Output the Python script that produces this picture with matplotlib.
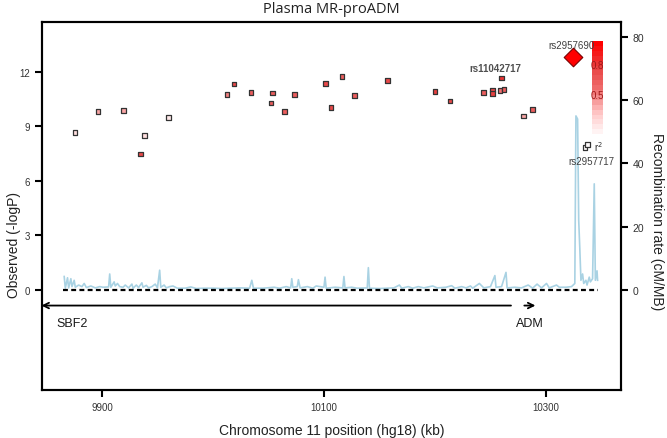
import matplotlib
matplotlib.use("Agg")
import matplotlib.pyplot as plt
import numpy as np
from matplotlib.colors import LinearSegmentedColormap

plt.rcParams['font.family'] = ['Liberation Sans', 'DejaVu Sans']

# SNP data: position (kb), -logP, r2 with the lead SNP
snp_pos = [9875.7, 9896.4, 9919.5, 9934.5, 9938.1, 9959.7, 10012.6, 10018.9,
           10034.2, 10052.3, 10053.4, 10064.6, 10073.6, 10101.5, 10106.3,
           10116.2, 10127.6, 10157.4, 10200.0, 10213.5, 10243.9, 10251.6,
           10251.6, 10258.6, 10262.2, 10259.7, 10279.6, 10287.7,
           10335.0, 10337.3]
snp_logp = [8.67, 9.81, 9.86, 7.47, 8.51, 9.48, 10.76, 11.33,
            10.87, 10.28, 10.83, 9.81, 10.76, 11.34, 10.02,
            11.74, 10.70, 11.50, 10.90, 10.40, 10.86, 11.00,
            10.81, 10.95, 11.03, 11.66, 9.56, 9.91,
            7.85, 8.00]
snp_r2 = [0.15, 0.35, 0.35, 0.7, 0.15, 0.1, 0.45, 0.7,
          0.6, 0.6, 0.6, 0.6, 0.6, 0.7, 0.7,
          0.6, 0.6, 0.7, 0.75, 0.7, 0.6, 0.7,
          0.75, 0.5, 0.6, 0.8, 0.35, 0.6,
          0.02, 0.02]

lead_pos = 10324.0
lead_logp = 12.79

# recombination rate (cM/Mb)
rec_pos = [9866, 9867, 9869, 9870, 9872, 9873, 9875, 9876, 9879, 9882, 9884, 9886,
           9890, 9894, 9898, 9901, 9906, 9907, 9908, 9911, 9912, 9914, 9916, 9919,
           9921, 9924, 9927, 9928, 9931, 9933, 9936, 9937, 9940, 9942, 9945, 9948,
           9950, 9952, 9953, 9956, 9958, 9961, 9964, 9968, 9975, 9980, 9985, 9992,
           10000, 10008, 10015, 10025, 10033, 10035, 10036.5, 10045, 10055, 10060,
           10066, 10070, 10071, 10072, 10076, 10077, 10078.5, 10085, 10090, 10093,
           10100, 10101, 10102, 10110, 10117, 10118, 10119, 10125, 10130, 10139,
           10140, 10141, 10150, 10163, 10168, 10170, 10176, 10180, 10185, 10190,
           10198, 10202, 10210, 10215, 10218, 10224, 10228, 10232, 10234, 10240,
           10244, 10250, 10254, 10255, 10260, 10264, 10265, 10272, 10278, 10284,
           10288, 10292, 10296, 10300.5, 10303, 10309.5, 10312, 10318, 10323, 10326,
           10327, 10328.5, 10329.5, 10330.5, 10331.5, 10333, 10334, 10336, 10337,
           10339, 10340, 10342, 10343.5, 10344.5, 10346, 10346.5]
rec_rate = [4.2, 0.5, 3.8, 0.6, 3.5, 1.0, 3.0, 0.8, 1.5, 1.0, 2.0, 0.7,
            1.2, 0.6, 1.0, 0.8, 0.9, 5.0, 0.8, 2.5, 1.2, 2.0, 1.0, 0.8,
            1.5, 0.6, 1.8, 0.5, 1.5, 0.7, 2.2, 0.8, 1.4, 0.6, 1.0, 1.8,
            0.6, 6.2, 0.8, 1.5, 0.6, 1.0, 1.2, 0.5, 0.5, 0.9, 0.4, 0.5,
            0.5, 0.4, 0.5, 0.6, 0.5, 3.0, 0.5, 0.5, 0.8, 0.5,
            1.0, 0.6, 3.5, 0.8, 1.0, 3.2, 0.6, 1.0, 0.5, 1.2,
            0.8, 4.0, 0.5, 0.8, 0.6, 4.2, 0.6, 0.8, 0.5, 0.6,
            7.0, 0.5, 0.4, 0.6, 1.5, 0.5, 1.0, 0.5, 1.0, 0.6,
            1.2, 0.6, 0.8, 1.3, 0.5, 1.0, 0.6, 1.2, 0.5, 2.0,
            0.6, 1.0, 4.5, 0.8, 1.0, 5.5, 0.6, 0.8, 0.6, 1.5,
            0.5, 1.8, 0.6, 2.0, 0.6, 1.5, 0.8, 0.8, 1.0, 2.0,
            55.0, 54.0, 22.0, 13.0, 3.0, 5.0, 2.0, 3.0, 1.5,
            4.0, 2.5, 3.5, 33.5, 3.0, 6.0, 3.0]

genes = ["SBF2", "ADM"]
x_ticks = [9900, 10100, 10300]
y_ticks = [0, 3, 6, 9, 12]
rec_ticks = [0, 20, 40, 60, 80]

cmap = LinearSegmentedColormap.from_list(
    "ld", [(0, "#ffffff"), (0.25, "#ffc8c8"), (0.5, "#f07070"), (0.75, "#e84040"), (1, "#ff0000")])

fig = plt.figure(figsize=(6.67, 4.39), dpi=100)
ax = fig.add_axes([42 / 667, 1 - 391 / 439, (621 - 42) / 667, (391 - 23) / 439])
ax2 = ax.twinx()
ax.set_zorder(ax2.get_zorder() + 1)
ax.patch.set_visible(False)

# recombination rate
ax2.plot(rec_pos, rec_rate, color="#a9d2e3", lw=1.2)
ax2.set_ylim(-31.7, 84.7)
ax2.set_yticks(rec_ticks)
ax2.set_ylabel("Recombination rate (cM/MB)", rotation=270, labelpad=14, fontsize=10, color="#222222")
ax2.yaxis.label.set_y(0.46)

# SNPs
ax.scatter(snp_pos, snp_logp, c=snp_r2, cmap=cmap, vmin=0, vmax=1, marker="s",
           s=11, edgecolors="#333333", linewidths=0.9, zorder=3)
ax.scatter([lead_pos], [lead_logp], c="#ff0000", marker="D", s=90,
           edgecolors="#7a0000", linewidths=0.8, zorder=4)

ax.plot([rec_pos[0] - 1, rec_pos[-1]], [0, 0], color="black", lw=1.6, ls=(0, (2.2, 1.5)), zorder=2)

# gene track
ax.annotate("", xy=(9843, -0.85), xytext=(10271, -0.85),
            arrowprops=dict(arrowstyle="->", color="black", lw=1.3), annotation_clip=False)
ax.annotate("", xy=(10293, -0.85), xytext=(10278, -0.85),
            arrowprops=dict(arrowstyle="->", color="black", lw=1.3))
ax.text(9858.6, -1.81, genes[0], fontsize=9, va="center", ha="left", color="#1a1a1a")
ax.text(10272.7, -1.81, genes[1], fontsize=9, va="center", ha="left", color="#1a1a1a")

# SNP labels
ax.text(10254.4, 12.2, "rs11042717", fontsize=7, weight="bold", color="#505050", ha="center", va="center")
ax.text(10302.6, 13.48, "rs2957690", fontsize=7, color="#404040", ha="left", va="center")
ax.text(10340.5, 7.08, "rs2957717", fontsize=7, color="#404040", ha="center", va="center")
ax.text(10343.0, 7.92, "r$^2$", fontsize=7, color="#303030", ha="left", va="center")

ax.set_xlim(9846, 10367.6)
ax.set_ylim(-5.49, 14.73)
ax.set_xticks(x_ticks)
ax.set_yticks(y_ticks)
ax.set_xlabel("Chromosome 11 position (hg18) (kb)", fontsize=10, color="#222222", labelpad=8)
ax.set_ylabel("Observed (-logP)", fontsize=10, color="#222222", labelpad=-1)
ax.yaxis.label.set_y(0.397)
fig.text(0.497, 1 - 9.5 / 439, "Plasma MR-proADM", fontsize=10.5, family="Open Sans",
         color="#222222", ha="center", va="center")

for a in (ax, ax2):
    for sp in a.spines.values():
        sp.set_linewidth(1.5)
ax.tick_params(axis="both", labelsize=7, length=5, width=1.5, colors="black", labelcolor="#333333")
ax2.tick_params(axis="y", labelsize=7.5, length=5, width=1.5, labelcolor="#333333")

# r2 colour bar
cax = fig.add_axes([591.7 / 667, 1 - 140 / 439, 11 / 667, 98 / 439])
levels = np.linspace(0, 1, 20).reshape(-1, 1)
cax.imshow(levels, cmap=cmap, vmin=0, vmax=1, aspect="auto", origin="lower", extent=(0, 1, 0, 1))
cax.set_axis_off()
cax.text(0.5, 0.755, "0.8", transform=cax.transAxes, fontsize=7, color="#a01818", ha="center", va="center")
cax.text(0.5, 0.449, "0.5", transform=cax.transAxes, fontsize=7, color="#a01818", ha="center", va="center")

fig.savefig("out.png", dpi=100)
